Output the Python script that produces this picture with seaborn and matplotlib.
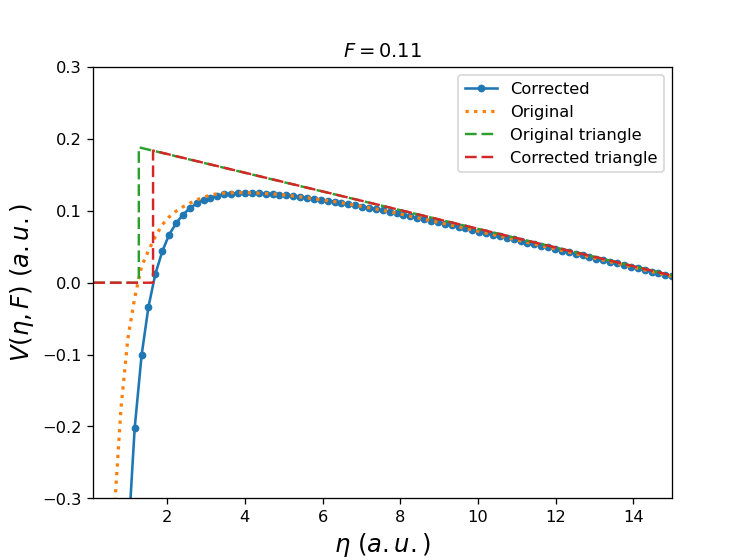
import matplotlib
matplotlib.use("Agg")
import matplotlib.pyplot as plt
import seaborn as sns

# eta grid (a.u.)
eta = [0.100, 0.277, 0.455, 0.632, 0.810, 0.987, 1.164, 1.342, 1.519, 1.696,
       1.874, 2.051, 2.229, 2.406, 2.583, 2.761, 2.938, 3.115, 3.293, 3.470,
       3.648, 3.825, 4.002, 4.180, 4.357, 4.535, 4.712, 4.889, 5.067, 5.244,
       5.421, 5.599, 5.776, 5.954, 6.131, 6.308, 6.486, 6.663, 6.840, 7.018,
       7.195, 7.373, 7.550, 7.727, 7.905, 8.082, 8.260, 8.437, 8.614, 8.792,
       8.969, 9.146, 9.324, 9.501, 9.679, 9.856, 10.033, 10.211, 10.388, 10.565,
       10.743, 10.920, 11.098, 11.275, 11.452, 11.630, 11.807, 11.985, 12.162, 12.339,
       12.517, 12.694, 12.871, 13.049, 13.226, 13.404, 13.581, 13.758, 13.936, 14.113,
       14.290, 14.468, 14.645, 14.823, 15.000]

v_corrected = [-9.0, -2.5, -1.2, -0.75, -0.52, -0.364, -0.202, -0.1007, -0.0334, 0.0121,
               0.0436, 0.0669, 0.0826, 0.0947, 0.1035, 0.1105, 0.1152, 0.1184, 0.1212, 0.1230,
               0.1240, 0.1245, 0.1250, 0.1248, 0.1245, 0.1240, 0.1234, 0.1226, 0.1217, 0.1206,
               0.1194, 0.1181, 0.1167, 0.1153, 0.1140, 0.1127, 0.1111, 0.1094, 0.1077, 0.1060,
               0.1042, 0.1024, 0.1005, 0.0986, 0.0966, 0.0945, 0.0923, 0.0903, 0.0882, 0.0861,
               0.0840, 0.0819, 0.0798, 0.0777, 0.0755, 0.0734, 0.0712, 0.0690, 0.0668, 0.0647,
               0.0625, 0.0603, 0.0581, 0.0558, 0.0536, 0.0514, 0.0492, 0.0470, 0.0447, 0.0425,
               0.0403, 0.0380, 0.0358, 0.0335, 0.0313, 0.0290, 0.0268, 0.0245, 0.0223, 0.0200,
               0.0177, 0.0155, 0.0132, 0.0109, 0.0087]

v_original = [-3.0, -1.3, -0.62, -0.325, -0.175, -0.078, -0.021, 0.023, 0.0447, 0.0644,
              0.0806, 0.0915, 0.0995, 0.1055, 0.1105, 0.1152, 0.1190, 0.1218, 0.1238, 0.1247,
              0.1252, 0.1253, 0.1253, 0.1250, 0.1246, 0.1241, 0.1235, 0.1227, 0.1218, 0.1207,
              0.1195, 0.1182, 0.1168, 0.1154, 0.1141, 0.1128, 0.1112, 0.1095, 0.1078, 0.1061,
              0.1043, 0.1025, 0.1006, 0.0987, 0.0967, 0.0946, 0.0924, 0.0904, 0.0883, 0.0862,
              0.0841, 0.0820, 0.0799, 0.0778, 0.0756, 0.0735, 0.0713, 0.0691, 0.0669, 0.0648,
              0.0626, 0.0604, 0.0582, 0.0559, 0.0537, 0.0515, 0.0493, 0.0471, 0.0448, 0.0426,
              0.0404, 0.0381, 0.0359, 0.0336, 0.0314, 0.0291, 0.0269, 0.0246, 0.0224, 0.0201,
              0.0178, 0.0156, 0.0133, 0.0110, 0.0088]

# triangle barriers
tri_orig_x = [0.1, 1.27, 1.27, 15.0]
tri_orig_y = [0.0, 0.0, 0.1884, 0.0100]
tri_corr_x = [0.1, 1.637, 1.637, 15.0]
tri_corr_y = [0.0, 0.0, 0.1838, 0.0100]

fig, ax = plt.subplots(figsize=(6.4, 4.8), dpi=116.7)

sns.lineplot(x=eta, y=v_corrected, ax=ax, color='C0', marker='o', markersize=4,
             markeredgecolor='C0', linewidth=1.6, label='Corrected', sort=False, estimator=None)
sns.lineplot(x=eta, y=v_original, ax=ax, color='C1', linestyle=':', linewidth=2,
             label='Original', sort=False, estimator=None)
sns.lineplot(x=tri_orig_x, y=tri_orig_y, ax=ax, color='C2', linestyle=(0, (4.8, 2.0)),
             linewidth=1.5, label='Original triangle', sort=False, estimator=None)
sns.lineplot(x=tri_corr_x, y=tri_corr_y, ax=ax, color='C3', linestyle=(0, (4.8, 2.0)),
             linewidth=1.5, label='Corrected triangle', sort=False, estimator=None)

ax.set_xlim(0.1, 15)
ax.set_ylim(-0.3, 0.3)
ax.set_title(r'$F = 0.11$', fontsize=12)
ax.set_xlabel(r'$\eta\ (a.u.)$', fontsize=15)
ax.set_ylabel(r'$V(\eta,F)\ (a.u.)$', fontsize=15)
ax.legend(loc='upper right')

plt.savefig('out.png', dpi=116.7)
